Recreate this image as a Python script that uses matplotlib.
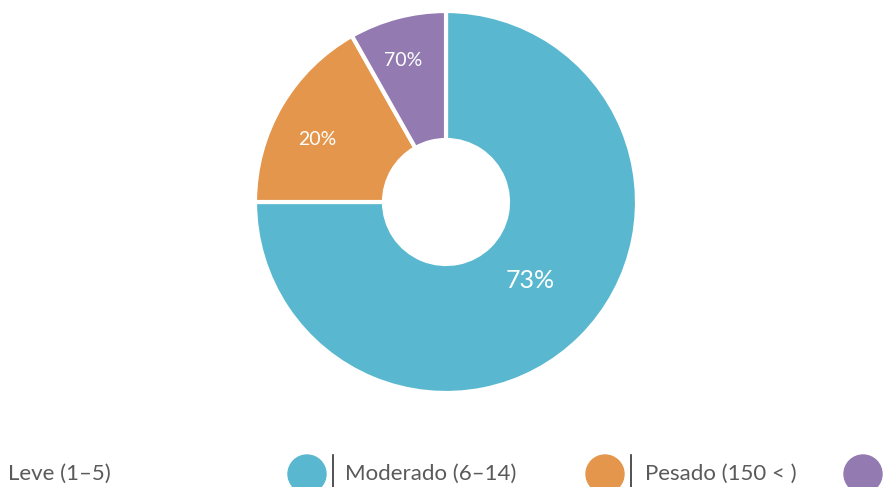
import numpy as np
import matplotlib.pyplot as plt
from matplotlib.patches import Circle

plt.rcParams['font.family'] = ['Lato', 'DejaVu Sans']

# dados do grafico (fatias, rotulos como aparecem)
categorias = ['Leve (1–5)', 'Moderado (6–14)', 'Pesado (150 < )']
valores = [75.0, 16.8, 8.2]
rotulos = ['73%', '20%', '70%']
cores = ['#59b8cf', '#e4974c', '#937bb1']

W, H = 885, 487
fig = plt.figure(figsize=(W / 100, H / 100), dpi=100)
ax = fig.add_axes([0, 0, 1, 1])

cx, cy, R, r_in = 446, H - 202, 191, 62
fatias, _ = ax.pie(valores, colors=cores, startangle=90, counterclock=False,
                   center=(cx, cy), radius=R, frame=True,
                   wedgeprops=dict(width=R - r_in, edgecolor='white', linewidth=3))
ax.set_xlim(0, W)
ax.set_ylim(0, H)
ax.set_aspect('equal')
ax.axis('off')

# rotulos dentro das fatias
dist = [115, 143, 148]
desvio = [2, 4.5, 2]
tam = [18, 14, 14]
for f, txt, d, a, s in zip(fatias, rotulos, dist, desvio, tam):
    ang = np.deg2rad((f.theta1 + f.theta2) / 2 + a)
    ax.text(cx + d * np.cos(ang), cy + d * np.sin(ang), txt, color='white',
            fontsize=s, ha='center', va='center')

# legenda (desalinhada como na figura original)
x_txt = [8, 345, 645]
x_circ = [307, 605, 863]
y_leg = H - 474
for i, (nome, cor) in enumerate(zip(categorias, cores)):
    ax.text(x_txt[i], y_leg, nome, color='#5a5a5a', fontsize=16,
            ha='left', va='center')
    ax.add_patch(Circle((x_circ[i], y_leg), 19, color=cor, clip_on=False))
    if i < 2:
        ax.plot([x_circ[i] + 26, x_circ[i] + 26], [0, H - 455],
                color='#333333', linewidth=1.2)

fig.savefig('out.png', dpi=100)
